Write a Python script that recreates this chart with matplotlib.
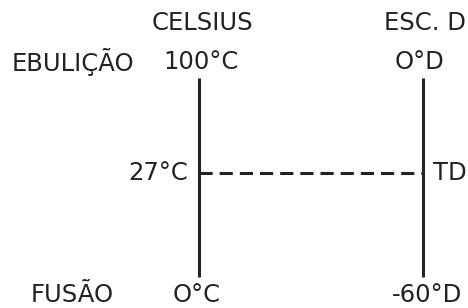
import matplotlib
matplotlib.use("Agg")
import matplotlib.pyplot as plt

# scale labels
scales = ["CELSIUS", "ESC. D"]
top_labels = ["100°C", "O°D"]
mid_labels = ["27°C", "TD"]
bottom_labels = ["O°C", "-60°D"]
row_labels = ["EBULIÇÃO", "FUSÃO"]

# layout (pixel coordinates)
line_x = [199, 423]
y_top, y_mid, y_bot = 78, 173, 277
title_x = [202, 425]
top_x = [201, 420]
bot_x = [197, 427]
ink = "#222222"
fs = 17.5

fig = plt.figure(figsize=(4.68, 3.08), dpi=100)
ax = fig.add_axes([0, 0, 1, 1])
ax.set_xlim(0, 468)
ax.set_ylim(308, 0)
ax.axis("off")

for i in range(2):
    ax.plot([line_x[i], line_x[i]], [y_top, y_bot], color=ink, lw=2.2,
            solid_capstyle="butt")
    ax.text(title_x[i], 23, scales[i], ha="center", va="center", fontsize=fs, color=ink)
    ax.text(top_x[i], 62, top_labels[i], ha="center", va="center", fontsize=fs, color=ink)
    ax.text(bot_x[i], 295, bottom_labels[i], ha="center", va="center", fontsize=fs, color=ink)

# dashed link between the scales
ax.plot([line_x[0], line_x[1]], [y_mid, y_mid], color=ink, lw=2.2, dashes=(4.3, 2.3))
ax.text(line_x[0] - 11, y_mid, mid_labels[0], ha="right", va="center", fontsize=fs, color=ink)
ax.text(line_x[1] + 10, y_mid, mid_labels[1], ha="left", va="center", fontsize=fs, color=ink)

ax.text(73, 62, row_labels[0], ha="center", va="center", fontsize=fs, color=ink)
ax.text(72, 295, row_labels[1], ha="center", va="center", fontsize=fs, color=ink)

fig.savefig("out.png", dpi=100)
